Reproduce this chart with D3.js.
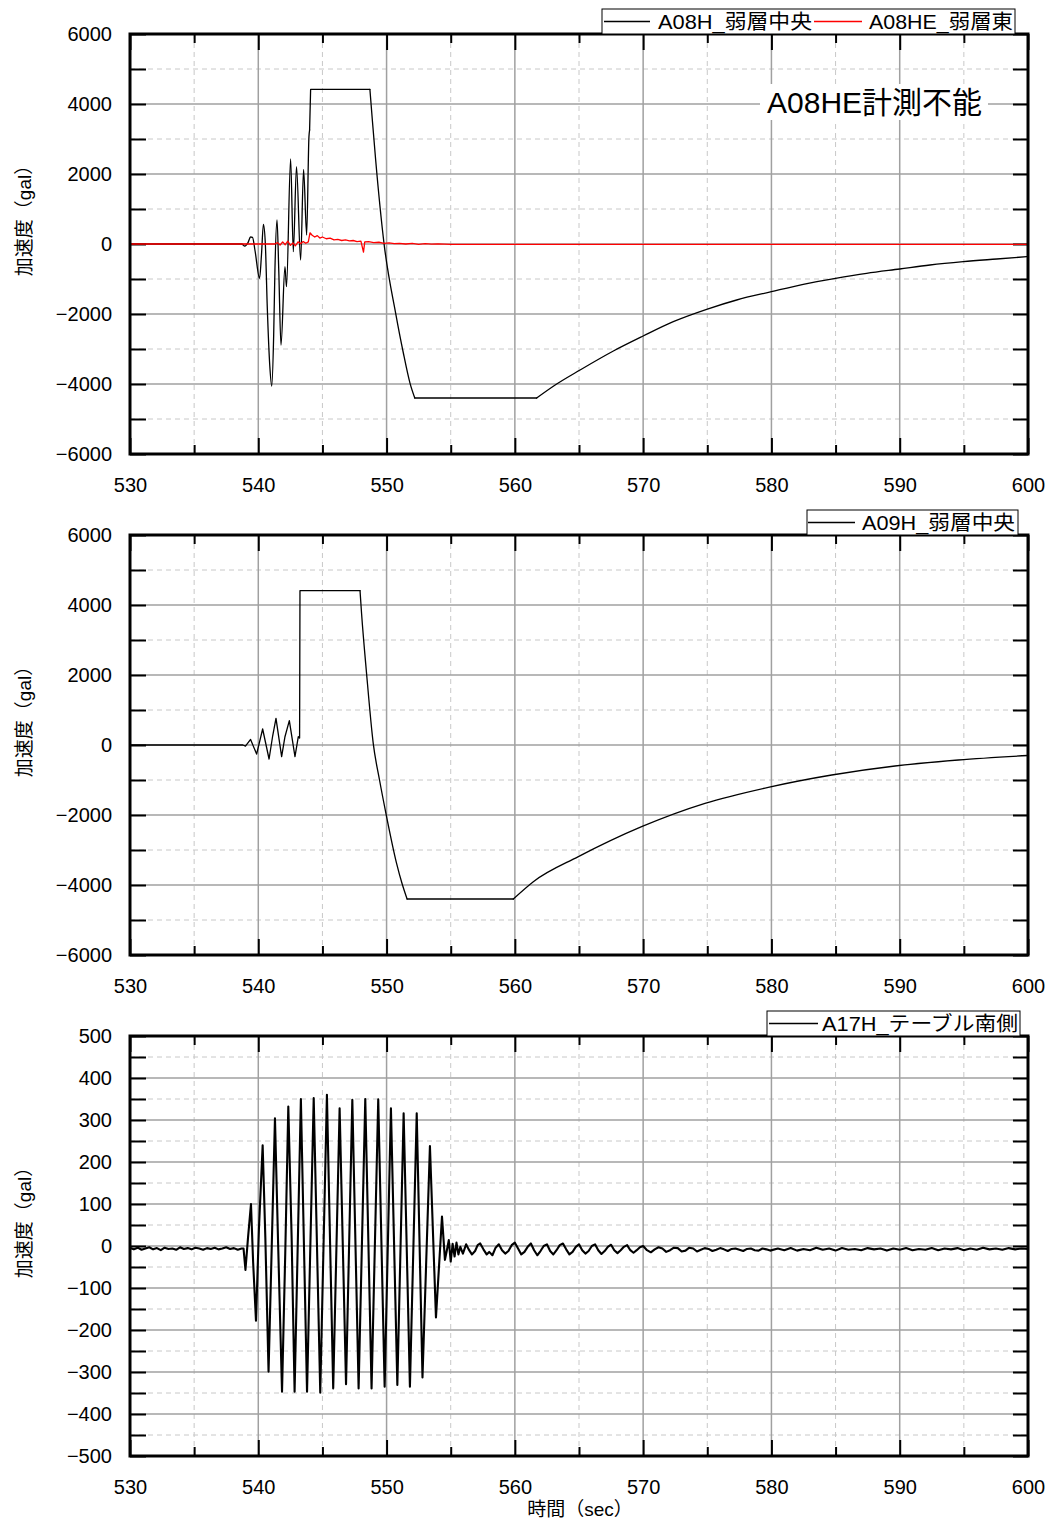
<!DOCTYPE html>
<html>
<head>
<meta charset="utf-8">
<script src="https://cdn.jsdelivr.net/npm/d3@7"></script>
<style>
  body { margin: 0; background: #fff; }
  text { font-family: "Liberation Sans", "Noto Sans CJK JP", sans-serif; }
</style>
</head>
<body>
<div id="chart"></div>
<script>
// tick values
const timeTicks = [530, 540, 550, 560, 570, 580, 590, 600];
const timeMinorTicks = [535, 545, 555, 565, 575, 585, 595];
const accTicks = [-6000, -4000, -2000, 0, 2000, 4000, 6000];
const accMinorTicks = [-5000, -3000, -1000, 1000, 3000, 5000];
const tableTicks = [-500, -400, -300, -200, -100, 0, 100, 200, 300, 400, 500];
const tableMinorTicks = [-450, -350, -250, -150, -50, 50, 150, 250, 350, 450];

// A08H_弱層中央 (sec, gal)
const a08h = [
  [530, 0], [538.7, 0], [538.95, -60], [539.2, 40], [539.4, 200], [539.55, 190],
  [539.75, -200], [540.1, -980], [540.25, -300], [540.4, 560], [540.55, 0],
  [540.7, -1800], [540.9, -3500], [541.05, -4060], [541.2, -2600], [541.3, -700],
  [541.46, 690], [541.6, -800], [541.77, -2890], [542.08, -650], [542.2, -1220],
  [542.52, 2430], [542.73, -220], [542.98, 2210], [543.3, -460], [543.53, 2130],
  [543.77, 257], [543.95, 3070], [544.0, 3257], [544.08, 4420], [548.7, 4420],
  [548.9, 3500], [549.15, 2400], [549.8, 20], [550.71, -1980], [551.3, -3100],
  [551.83, -3980], [552.2, -4400], [561.7, -4400], [563.26, -4000], [565.08, -3600],
  [567.68, -3057], [570.0, -2629], [572.35, -2219], [574.95, -1867], [577.29, -1600],
  [580.0, -1362], [582.48, -1152], [585.0, -981], [587.42, -838], [590.0, -714],
  [592.36, -600], [594.95, -505], [597.56, -429], [600, -360]
];

// A08HE_弱層東
const a08he = [
  [530, 0], [541.3, 0], [541.5, 40], [541.7, -30], [541.9, 60], [542.1, -20],
  [542.3, 80], [542.5, -40], [542.7, 30], [542.9, -50], [543.1, 60], [543.3, 10],
  [543.5, 70], [543.7, 20], [543.9, 60], [544.03, 320], [544.2, 250], [544.4, 200],
  [544.6, 240], [544.8, 170], [545.0, 200], [545.3, 150], [545.6, 170], [545.9, 120],
  [546.2, 130], [546.5, 100], [546.8, 115], [547.1, 90], [547.4, 100], [547.7, 70],
  [548.0, 80], [548.2, -230], [548.3, 60], [548.6, 70], [549.0, 40], [549.4, 50],
  [549.8, 20], [550.2, 30], [550.6, 10], [551.0, 20], [551.5, 0], [552, 15],
  [552.5, -10], [553, 10], [553.5, -5], [554, 5], [555, -10], [600, -10]
];

// A09H_弱層中央
const a09h = [
  [530, 0], [538.8, 0], [539.0, -30], [539.4, 160], [539.87, -260], [540.34, 457],
  [540.84, -400], [541.12, 257], [541.38, 760], [541.82, -333], [542.08, 237],
  [542.42, 695], [542.86, -333], [543.12, 237], [543.22, 200], [543.25, 4410],
  [547.93, 4410], [548.05, 3762], [548.44, 2048], [548.96, 48], [549.45, -1000],
  [549.95, -1952], [550.78, -3381], [551.2, -3950], [551.6, -4400], [559.88, -4400],
  [561.44, -3905], [564.95, -3190], [569.88, -2333], [574.82, -1667], [579.75, -1210],
  [584.7, -857], [589.63, -600], [594.57, -429], [600, -300]
];

// A17H_テーブル南側
const a17h = [
  [530, -5], [530.3, -8], [530.6, -4], [530.9, -9], [531.2, -6], [531.5, -3],
  [531.8, -8], [532.1, -5], [532.4, -10], [532.7, -4], [533.0, -7], [533.3, -6],
  [533.6, -9], [533.9, -3], [534.2, -7], [534.5, -5], [534.8, -8], [535.1, -4],
  [535.4, -6], [535.7, -9], [536.0, -5], [536.3, -7], [536.6, -4], [536.9, -8],
  [537.2, -6], [537.5, -3], [537.8, -7], [538.1, -5], [538.4, -9], [538.7, -6],
  [538.85, -6], [539.0, -57], [539.2, 20], [539.43, 100], [539.6, -40], [539.82, -178],
  [540.05, 40], [540.34, 240], [540.55, 20], [540.8, -299], [541.05, 0], [541.3, 304],
  [541.55, 0], [541.85, -347], [542.1, -20], [542.34, 332], [542.6, 20], [542.83, -347],
  [543.32, 350], [543.8, -347], [544.32, 352], [544.83, -349], [545.35, 360],
  [545.84, -339], [546.34, 328], [546.84, -329], [547.33, 348], [547.82, -339],
  [548.34, 350], [548.83, -339], [549.35, 349], [549.85, -335], [550.34, 328],
  [550.84, -331], [551.33, 316], [551.82, -335], [552.35, 316], [552.8, -313],
  [553.38, 238], [553.85, -170], [554.32, 70], [554.55, -33], [554.7, -10],
  [554.85, 14], [555.0, -37], [555.15, 5], [555.3, -25], [555.45, 8], [555.6, -20],
  [555.75, -2], [555.95, -18], [556.2, 4], [556.4, -8], [556.65, -20], [556.9, -12],
  [557.1, 2], [557.3, 6], [557.55, -8], [557.8, -20], [558.0, -14], [558.25, -22],
  [558.5, -4], [558.75, 4], [559.0, -10], [559.25, -18], [559.5, -12], [559.75, 2],
  [560.0, 8], [560.25, -6], [560.5, -20], [560.75, -14], [561.0, -2], [561.25, 6],
  [561.5, -10], [561.75, -22], [562.0, -12], [562.25, 0], [562.5, 4], [562.75, -12],
  [563.0, -20], [563.25, -10], [563.5, 2], [563.75, 6], [564.0, -8], [564.25, -20],
  [564.5, -14], [564.75, -2], [565.0, 4], [565.25, -10], [565.5, -18], [565.75, -12],
  [566.0, 0], [566.25, 4], [566.5, -10], [566.75, -19], [567.0, -12], [567.25, -2],
  [567.5, 3], [567.75, -10], [568.0, -17], [568.25, -10], [568.5, -2], [568.75, 2],
  [569.0, -10], [569.25, -16], [569.5, -10], [569.75, -3], [570.0, 0], [570.3, -10],
  [570.6, -15], [570.9, -8], [571.2, -3], [571.5, -6], [571.8, -14], [572.1, -10],
  [572.4, -4], [572.7, -5], [573.0, -13], [573.3, -11], [573.6, -4], [573.9, -6],
  [574.2, -13], [574.5, -9], [574.8, -5], [575.1, -7], [575.4, -12], [575.7, -9],
  [576.0, -5], [576.3, -8], [576.6, -12], [576.9, -7], [577.2, -6], [577.5, -9],
  [577.8, -12], [578.1, -7], [578.4, -6], [578.7, -10], [579.0, -11], [579.3, -6],
  [579.6, -8], [579.9, -11], [580.5, -6],
  [581, -10], [581.5, -5], [582, -11], [582.5, -7], [583, -10], [583.5, -4],
  [584, -9], [584.5, -6], [585, -11], [585.5, -5], [586, -9], [586.5, -7],
  [587, -10], [587.5, -5], [588, -8], [588.5, -6], [589, -11], [589.5, -6],
  [590, -9], [590.5, -5], [591, -10], [591.5, -7], [592, -9], [592.5, -5],
  [593, -10], [593.5, -6], [594, -8], [594.5, -5], [595, -10], [595.5, -6],
  [596, -9], [596.5, -4], [597, -8], [597.5, -6], [598, -9], [598.5, -5],
  [599, -8], [599.5, -6], [600, -7]
];

const width = 1052;
const height = 1524;
const left = 130, right = 1028;
const fmt = d3.format("d");
const smooth = d3.curveMonotoneX;
const straight = d3.curveLinear;

const svg = d3.select("#chart")
  .append("svg")
  .attr("width", width)
  .attr("height", height);

svg.append("rect").attr("width", width).attr("height", height).attr("fill", "#fff");

const x = d3.scaleLinear().domain([530, 600]).range([left, right]);

function drawPanel(p) {
  const y = d3.scaleLinear().domain(p.domain).range([p.bottom, p.top]);
  const g = svg.append("g");

  // grid
  const grid = g.append("g");
  grid.selectAll(".vminor").data(timeMinorTicks).enter().append("line")
    .attr("x1", d => x(d)).attr("x2", d => x(d))
    .attr("y1", p.top).attr("y2", p.bottom)
    .attr("stroke", "#c8c8c8").attr("stroke-dasharray", "5,4");
  grid.selectAll(".hminor").data(p.minor).enter().append("line")
    .attr("x1", left).attr("x2", right)
    .attr("y1", d => y(d)).attr("y2", d => y(d))
    .attr("stroke", "#c8c8c8").attr("stroke-dasharray", "5,4");
  grid.selectAll(".vmajor").data(timeTicks).enter().append("line")
    .attr("x1", d => x(d)).attr("x2", d => x(d))
    .attr("y1", p.top).attr("y2", p.bottom)
    .attr("stroke", "#a0a0a0").attr("stroke-width", 1.5);
  grid.selectAll(".hmajor").data(p.ticks).enter().append("line")
    .attr("x1", left).attr("x2", right)
    .attr("y1", d => y(d)).attr("y2", d => y(d))
    .attr("stroke", "#a0a0a0").attr("stroke-width", 1.5);

  if (p.note) {
    g.append("rect")
      .attr("x", 760).attr("y", 84).attr("width", 228).attr("height", 36)
      .attr("fill", "#fff");
    g.append("text")
      .attr("x", 767).attr("y", 113)
      .attr("font-size", 30)
      .text(p.note);
  }

  // axes
  const styleAxis = sel => {
    sel.select(".domain").remove();
    sel.selectAll(".tick line").attr("stroke", "#000").attr("stroke-width", 2);
    sel.selectAll(".tick text")
      .attr("font-size", 20)
      .attr("fill", "#000")
      .style("font-family", "'Liberation Sans', Arial, sans-serif");
  };

  g.append("g").attr("transform", `translate(0,${p.bottom})`)
    .call(d3.axisBottom(x).tickValues(timeTicks).tickSize(-16).tickPadding(24).tickFormat(fmt))
    .call(styleAxis);
  g.append("g").attr("transform", `translate(0,${p.bottom})`)
    .call(d3.axisBottom(x).tickValues(timeMinorTicks).tickSize(-9).tickFormat(""))
    .call(styleAxis);
  g.append("g").attr("transform", `translate(0,${p.top})`)
    .call(d3.axisTop(x).tickValues(timeTicks).tickSize(-16).tickFormat(""))
    .call(styleAxis);
  g.append("g").attr("transform", `translate(0,${p.top})`)
    .call(d3.axisTop(x).tickValues(timeMinorTicks).tickSize(-9).tickFormat(""))
    .call(styleAxis);
  g.append("g").attr("transform", `translate(${left},0)`)
    .call(d3.axisLeft(y).tickValues(p.ticks).tickSize(-16).tickPadding(18).tickFormat(fmt))
    .call(styleAxis);
  g.append("g").attr("transform", `translate(${left},0)`)
    .call(d3.axisLeft(y).tickValues(p.minor).tickSize(-16).tickFormat(""))
    .call(styleAxis);
  g.append("g").attr("transform", `translate(${right},0)`)
    .call(d3.axisRight(y).tickValues(p.ticks.concat(p.minor)).tickSize(-15).tickFormat(""))
    .call(styleAxis);

  // series, drawn piece by piece so flat clipping corners stay sharp
  p.series.forEach(s => {
    const pieces = s.pieces || [[530, 600, straight]];
    pieces.forEach(([t0, t1, curve]) => {
      const line = d3.line()
        .x(d => x(d[0]))
        .y(d => y(d[1]))
        .curve(curve);
      g.append("path")
        .datum(s.data.filter(d => d[0] >= t0 && d[0] <= t1))
        .attr("fill", "none")
        .attr("stroke", s.color)
        .attr("stroke-width", s.width || 1.3)
        .attr("stroke-linejoin", "round")
        .attr("stroke-linecap", "round")
        .attr("d", line);
    });
  });

  // frame
  g.append("rect")
    .attr("x", left).attr("y", p.top)
    .attr("width", right - left).attr("height", p.bottom - p.top)
    .attr("fill", "none").attr("stroke", "#000").attr("stroke-width", 3);

  // y label
  g.append("text")
    .attr("transform", `translate(31,${(p.top + p.bottom) / 2 - 28}) rotate(-90)`)
    .attr("text-anchor", "middle")
    .attr("font-size", 19)
    .text("加速度（gal）");

  // legend
  const lg = g.append("g");
  lg.append("rect")
    .attr("x", p.legend.x).attr("y", p.top - 25)
    .attr("width", p.legend.w).attr("height", 25)
    .attr("fill", "#fff").attr("stroke", "#000").attr("stroke-width", 1);
  p.legend.items.forEach(it => {
    lg.append("line")
      .attr("x1", it.x1).attr("x2", it.x2)
      .attr("y1", p.top - 12.5).attr("y2", p.top - 12.5)
      .attr("stroke", it.color).attr("stroke-width", 1.3);
    lg.append("text")
      .attr("x", it.tx).attr("y", p.top - 5)
      .attr("font-size", 20)
      .attr("textLength", it.tw)
      .attr("lengthAdjust", "spacingAndGlyphs")
      .text(it.label);
  });
}

drawPanel({
  top: 34, bottom: 454, domain: [-6000, 6000],
  ticks: accTicks, minor: accMinorTicks,
  note: "A08HE計測不能",
  series: [
    {
      data: a08h, color: "#000",
      pieces: [[530, 544.0, smooth], [544.0, 548.7, straight], [548.7, 552.2, smooth],
               [552.2, 561.7, straight], [561.7, 600, smooth]]
    },
    { data: a08he, color: "#ff0000" }
  ],
  legend: {
    x: 602, w: 413,
    items: [
      { x1: 604, x2: 650, color: "#000", tx: 658, tw: 154, label: "A08H_弱層中央" },
      { x1: 814, x2: 862, color: "#ff0000", tx: 869, tw: 144, label: "A08HE_弱層東" }
    ]
  }
});

drawPanel({
  top: 535, bottom: 955, domain: [-6000, 6000],
  ticks: accTicks, minor: accMinorTicks,
  series: [
    {
      data: a09h, color: "#000",
      pieces: [[530, 547.93, straight], [547.93, 551.6, smooth],
               [551.6, 559.88, straight], [559.88, 600, smooth]]
    }
  ],
  legend: {
    x: 807, w: 211,
    items: [
      { x1: 808, x2: 855, color: "#000", tx: 862, tw: 153, label: "A09H_弱層中央" }
    ]
  }
});

drawPanel({
  top: 1036, bottom: 1456, domain: [-500, 500],
  ticks: tableTicks, minor: tableMinorTicks,
  series: [
    { data: a17h, color: "#000", width: 2.1 }
  ],
  legend: {
    x: 767, w: 253,
    items: [
      { x1: 769, x2: 818, color: "#000", tx: 822, tw: 196, label: "A17H_テーブル南側" }
    ]
  }
});

svg.append("text")
  .attr("x", 580).attr("y", 1516)
  .attr("text-anchor", "middle")
  .attr("font-size", 19)
  .text("時間（sec）");
</script>
</body>
</html>
